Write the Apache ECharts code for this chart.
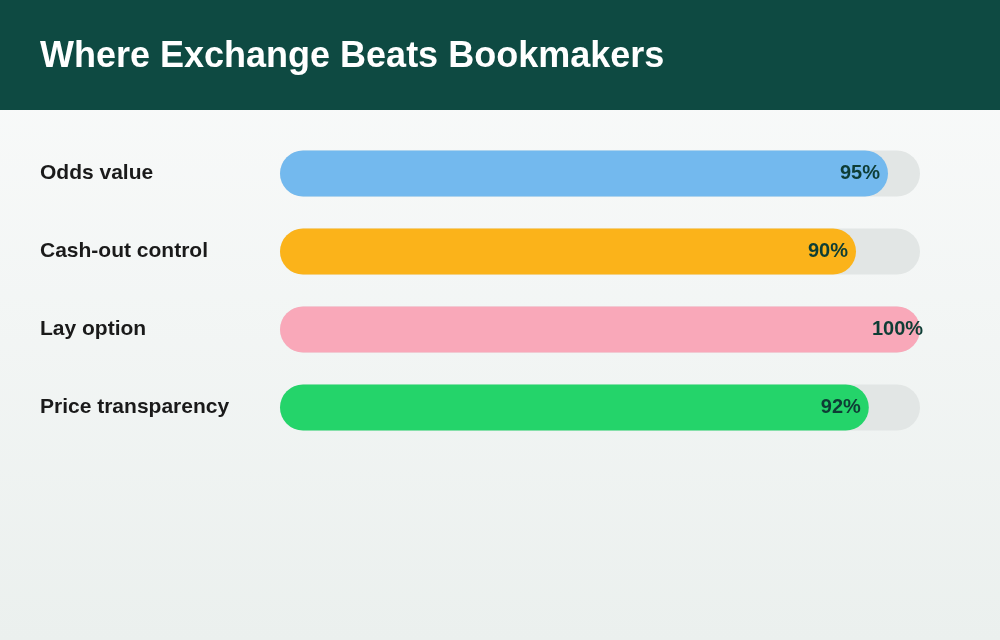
<!DOCTYPE html>
<html>
<head>
<meta charset="utf-8">
<style type="text/css">
html,body{margin:0;padding:0;}
#chart{width:1000px;height:640px;background:linear-gradient(180deg,#fafbfb 0%,#ebf0ee 100%);}
</style>
<script src="https://cdn.jsdelivr.net/npm/echarts@6/dist/echarts.min.js"></script>
</head>
<body>
<div id="chart"></div>
<script type="text/javascript">
var categories = ['Odds value', 'Cash-out control', 'Lay option', 'Price transparency'];
var scores = [95, 90, 100, 92];
var barColors = ['#73b9ee', '#fbb31a', '#f9a8b9', '#24d46a'];

var FONT = "'Liberation Sans', Arial, sans-serif";
var myChart = echarts.init(document.getElementById('chart'));
var option = {
    backgroundColor: 'transparent',
    textStyle: {fontFamily: FONT},
    graphic: [
        {type: 'rect', left: 0, top: 0, shape: {width: 1000, height: 110}, style: {fill: '#0e4a42'}, z: 0},
        {type: 'text', left: 40, top: 39, style: {text: 'Where Exchange Beats Bookmakers', fill: '#ffffff', fontSize: 36, fontWeight: 'bold', fontFamily: FONT}, z: 1}
    ],
    grid: {left: 280, right: 80, top: 134.5, height: 312},
    xAxis: {type: 'value', min: 0, max: 100, show: false},
    yAxis: {
        type: 'category',
        inverse: true,
        data: categories,
        axisLine: {show: false},
        axisTick: {show: false},
        axisLabel: {
            align: 'left',
            margin: 240,
            color: '#1a1a1a',
            fontSize: 21,
            fontWeight: 'bold',
            fontFamily: FONT,
            padding: [0, 0, 7, 0]
        }
    },
    series: [{
        type: 'bar',
        barWidth: 46,
        data: scores.map(function (v, i) {
            return {value: v, itemStyle: {color: barColors[i]}};
        }),
        itemStyle: {borderRadius: 23},
        showBackground: true,
        backgroundStyle: {color: '#e2e6e5', borderRadius: 23},
        label: {
            show: true,
            position: 'right',
            distance: 0,
            offset: [-48, 0],
            formatter: '{c}%',
            color: '#0e3d35',
            fontSize: 20,
            fontWeight: 'bold',
            fontFamily: FONT
        },
        silent: true
    }]
};
myChart.setOption(option);
</script>
</body>
</html>
